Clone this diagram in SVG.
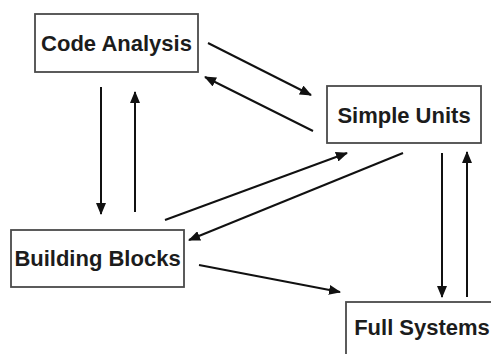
<svg xmlns="http://www.w3.org/2000/svg" width="491" height="354" viewBox="0 0 491 354">
<style>
.box{fill:#fff;stroke:#4a4a4a;stroke-width:1.8}
.lbl{font-family:"Liberation Sans",Arial,sans-serif;font-weight:bold;font-size:22px;fill:#1c1c1c;text-anchor:middle}
.c{stroke:#111;stroke-width:2;fill:none;marker-end:url(#ah)}
</style>
<defs>
<marker id="ah" markerWidth="12" markerHeight="10" refX="11" refY="5" orient="auto" markerUnits="userSpaceOnUse">
<path d="M0,0 L12,5 L0,10 Z" fill="#111"/>
</marker>
</defs>
<rect width="491" height="354" fill="#fff"/>
<g id="connectors">
<line class="c" x1="208" y1="43" x2="311" y2="95"/>
<line class="c" x1="313" y1="131" x2="205" y2="77"/>
<line class="c" x1="101" y1="87" x2="101" y2="214"/>
<line class="c" x1="135" y1="212" x2="135" y2="92"/>
<line class="c" x1="165" y1="220" x2="347" y2="153"/>
<line class="c" x1="403" y1="153" x2="189" y2="240"/>
<line class="c" x1="199" y1="265" x2="340" y2="292"/>
<line class="c" x1="442" y1="153" x2="442" y2="297"/>
<line class="c" x1="467" y1="297" x2="467" y2="152"/>
</g>
<g id="code-analysis">
<rect class="box" x="35" y="14" width="163" height="58"/>
<text class="lbl" x="116.5" y="51">Code Analysis</text>
</g>
<g id="simple-units">
<rect class="box" x="327" y="86" width="154" height="57"/>
<text class="lbl" x="404" y="123">Simple Units</text>
</g>
<g id="building-blocks">
<rect class="box" x="11" y="230" width="173" height="57"/>
<text class="lbl" x="97.5" y="266">Building Blocks</text>
</g>
<g id="full-systems">
<rect class="box" x="346" y="302" width="160" height="60"/>
<text class="lbl" x="422" y="335">Full Systems</text>
</g>
</svg>
